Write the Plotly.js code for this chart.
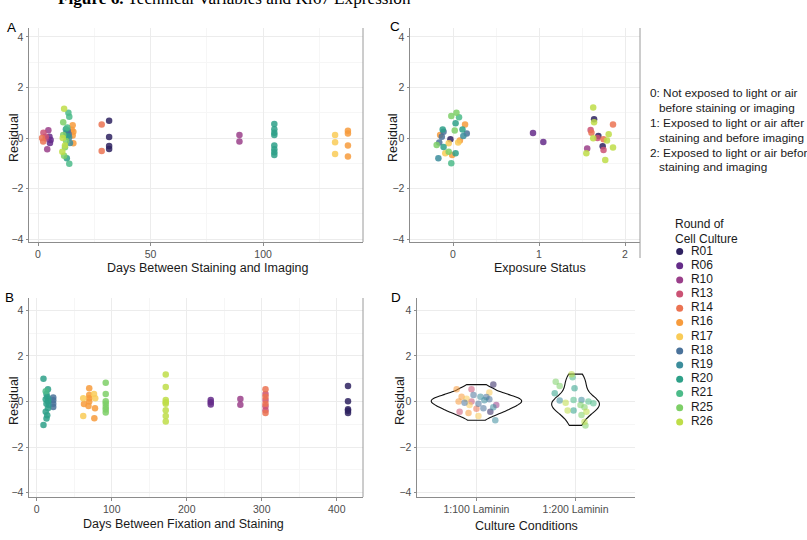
<!DOCTYPE html>
<html><head><meta charset="utf-8">
<script src="https://cdn.plot.ly/plotly-3.0.1.min.js"></script>
<style>body{margin:0;background:#fff}#chart{width:807px;height:540px}</style>
</head><body><div id="chart"></div>
<script>
// ---------- data ----------
const rounds = ['R01','R06','R10','R13','R14','R16','R17','R18','R19','R20','R21','R25','R26'];
const roundColors = ['#2E2260','#652C89','#9A3F8A','#CB5274','#EB7352','#F79B3C','#F9CB57','#4A729A','#3C8D9C','#2EA088','#4CBB89','#7ECF67','#BEDD48'];

// Panel A: days between staining and imaging vs residual
const aRound = ['R13','R13','R10','R10','R10','R06','R06','R06','R14','R14','R14','R14',
  'R01','R01','R01','R01','R10','R10',
  'R20','R20','R20','R20','R20','R20','R20','R20',
  'R17','R17','R17','R16','R16','R16','R16',
  'R26','R26','R26','R26','R21','R21','R21','R21','R25','R25','R25','R25','R25',
  'R16','R16','R16','R16','R16','R20','R20','R20','R18','R18','R18','R19','R19'];
const aDays = [2.4,3.4,4.6,4.1,3.6,5.1,5.6,5.3,2.3,1.8,28.3,28.3,
  31.6,31.6,31.6,31.6,89.5,89.5,
  105,105,105,105,105,105,105,105,
  132,132,132,137.7,137.7,137.7,137.7,
  11.6,11.0,10.8,12.0,13.5,13.9,13.9,13.0,11.2,11.2,12.0,11.6,12.5,
  15.4,15.7,15.4,15.7,15.0,12.4,12.8,13.0,13.2,13.6,12.6,13.8,14.2];
const aResid = [0.21,0.05,0.31,-0.44,-0.02,0.05,-0.08,-0.2,-0.14,0.0,0.54,-0.51,
  0.68,0.04,-0.31,-0.43,0.12,-0.14,
  0.55,0.35,0.21,0.12,-0.3,-0.44,-0.56,-0.67,
  0.12,-0.17,-0.63,0.29,0.18,-0.3,-0.73,
  1.16,0.0,-0.54,-0.3,1.0,0.84,-1.02,0.42,0.62,0.12,-0.36,-0.7,-0.12,
  0.51,0.25,0.1,-0.21,0.33,0.35,-0.8,0.08,0.29,0.15,0.2,0.02,-0.2];

// Panel C: exposure status (jittered) vs residual
const cRound = ['R25','R25','R25','R25','R25','R20','R20','R20','R20','R20','R16','R16','R16','R16',
  'R18','R18','R18','R18','R01','R17','R17','R17','R19','R19','R21','R21',
  'R06','R06',
  'R26','R26','R26','R26','R26','R26','R26','R26','R01','R01','R01','R14','R14','R14','R13','R13','R13','R10'];
const cExposure = [0.04,-0.02,0.02,-0.19,-0.05,0.03,-0.12,0.11,-0.11,0.03,0.14,-0.15,0.08,-0.01,
  -0.11,0.16,-0.16,-0.13,-0.03,0.06,-0.05,-0.09,-0.17,0.12,-0.02,0.07,
  0.93,1.05,
  1.63,1.64,1.81,1.63,1.79,1.86,1.55,1.77,1.64,1.69,1.74,1.86,1.61,1.75,1.6,1.68,1.75,1.56];
const cResid = [1.0,0.87,0.3,-0.28,-0.54,0.58,0.34,0.34,-0.35,-0.6,0.54,0.12,-0.1,-0.67,
  0.25,0.18,-0.18,0.05,-0.05,-0.18,-0.21,-0.6,-0.8,0.08,-1.0,0.82,
  0.2,-0.16,
  1.21,0.62,0.15,-0.01,-0.1,-0.37,-0.6,-0.87,0.74,0.08,-0.32,0.54,0.21,-0.05,0.32,0.0,-0.47,-0.41];

// Panel B: days between fixation and staining vs residual
const bRound = ['R20','R20','R20','R20','R20','R20','R20','R20','R20','R20','R20','R20','R19','R19','R21',
  'R18','R18','R18','R18',
  'R16','R16','R16','R16','R16','R16','R16','R16','R17','R17','R17','R17',
  'R25','R25','R25','R25','R25','R25','R25',
  'R26','R26','R26','R26','R26','R26','R26','R26',
  'R06','R06','R06','R10','R10',
  'R14','R14','R14','R14','R13','R13','R13','R13',
  'R01','R01','R01','R01','R01'];
const bDays = [9,15,13,14,12,15,13,15,12,14,13,9,16,16,12,
  22,22,22,22,
  70,70,70,70,63,69,77.7,76.8,76.4,62,78,62,
  92,92,92,92,92,92,92,
  172,172,172,172,172,172,172,172,
  232,232,232,271.5,271.5,
  305,305,305,305,305,305,305,305,
  415,415,415,415,415];
const bResid = [1.0,0.54,0.33,0.2,0.1,0.0,-0.1,-0.3,-0.45,-0.6,-0.75,-1.03,0.1,-0.15,0.45,
  0.18,0.05,-0.1,-0.24,
  0.58,0.29,0.14,0.0,-0.11,-0.2,-0.3,-0.74,0.33,0.14,0.14,-0.64,
  0.82,0.33,0.01,-0.1,-0.24,-0.35,-0.48,
  1.18,0.64,0.07,-0.03,-0.1,-0.38,-0.64,-0.88,
  0.07,-0.03,-0.13,0.11,-0.14,
  0.54,0.21,-0.1,-0.5,0.33,0.07,-0.21,-0.38,
  0.68,0.01,-0.34,-0.41,-0.5];

// Panel D: culture conditions vs residual
const conditions = ['1:100 Laminin','1:200 Laminin'];
const dCond = [0,0,0,0,0,0,0,0,0,0,0,0,0,0,0,0,0,0,0,0,0,0,0,0,0,
  1,1,1,1,1,1,1,1,1,1,1,1,1,1,1,1,1,1,1,1];
const dRound = ['R16','R16','R16','R16','R13','R13','R13','R01','R01','R17','R17','R17','R17',
  'R18','R18','R18','R18','R18','R18','R19','R19','R19','R19','R10','R14',
  'R25','R25','R25','R25','R25','R25','R21','R21','R21','R21','R26','R26','R26','R26','R26','R20','R20','R20','R19','R19'];
const dJitter = [-0.20,-0.15,-0.18,-0.08,-0.05,-0.05,-0.17,0.17,0.14,0.13,-0.10,-0.07,0.02,
  -0.03,0.13,-0.12,0.02,0.10,0.07,0.04,0.19,0.17,0.08,0.20,0.0,
  -0.20,-0.16,0.05,0.09,0.06,0.10,-0.03,-0.02,0.13,0.18,-0.04,-0.10,-0.08,0.11,0.09,-0.01,-0.21,-0.02,-0.16,0.06];
const dResid = [0.54,0.21,0.0,-0.5,0.54,0.0,-0.45,0.74,-0.45,0.39,0.12,-0.15,-0.64,
  0.29,0.1,-0.05,-0.1,0.2,-0.3,0.21,-0.82,-0.25,0.05,-0.15,-0.32,
  0.87,0.68,-0.15,-0.25,-0.59,-1.05,1.06,0.07,0.0,-0.08,1.2,-0.05,-0.39,-0.45,-0.89,0.58,0.36,-0.4,0.04,0.07];
const violinWidths = [0.91, 0.48];

const exposureNotes = ['0: Not exposed to light or air','before staining or imaging',
  '1: Exposed to light or air after','staining and before imaging',
  '2: Exposed to light or air before','staining and imaging'];

// ---------- helpers ----------
const W = 807, H = 540;
const px = v => v / W;
const py = v => 1 - v / H;
const FONT = 'Liberation Sans, Arial, Helvetica, sans-serif';

function byRound(rArr, xArr, yArr, xa, ya, opacity, size) {
  const out = [];
  rounds.forEach((r, i) => {
    const idx = [];
    rArr.forEach((v, j) => { if (v === r) idx.push(j); });
    if (!idx.length) return;
    out.push({type:'scatter', mode:'markers', x: idx.map(j => xArr[j]), y: idx.map(j => yArr[j]),
      xaxis: xa, yaxis: ya, showlegend:false, hoverinfo:'skip',
      marker:{color: roundColors[i], size: size, opacity: opacity, line:{width:0}}});
  });
  return out;
}
function nrd0(arr) {
  const n = arr.length, m = arr.reduce((a,b)=>a+b,0)/n;
  const sd = Math.sqrt(arr.reduce((a,b)=>a+(b-m)*(b-m),0)/(n-1));
  const s = arr.slice().sort((a,b)=>a-b);
  const q = p => { const h=(n-1)*p, lo=Math.floor(h); return s[lo]+(h-lo)*((s[lo+1]??s[lo])-s[lo]); };
  const iqr = (q(0.75)-q(0.25))/1.34;
  return 0.9*Math.min(sd, iqr)*Math.pow(n,-0.2);
}

const traces = [];
// violins (panel D)
conditions.forEach((c, k) => {
  const ys = dResid.filter((v, j) => dCond[j] === k);
  traces.push({type:'violin', x: ys.map(() => k + 1), y: ys, xaxis:'x4', yaxis:'y4',
    points:false, spanmode:'hard', width: violinWidths[k], scalegroup:'v'+k, scalemode:'width',
    bandwidth: nrd0(ys), line:{color:'#111', width:1.1}, fillcolor:'rgba(255,255,255,0)',
    box:{visible:false}, meanline:{visible:false}, showlegend:false, hoverinfo:'skip'});
});
traces.push(...byRound(aRound, aDays, aResid, 'x', 'y', 0.85, 6.5));
traces.push(...byRound(cRound, cExposure, cResid, 'x2', 'y2', 0.85, 6.5));
traces.push(...byRound(bRound, bDays, bResid, 'x3', 'y3', 0.85, 6.5));
traces.push(...byRound(dRound, dCond.map((k, j) => k + 1 + dJitter[j]), dResid, 'x4', 'y4', 0.55, 6.5));
// legend of rounds
traces.push({type:'scatter', mode:'markers', x: rounds.map(() => 0.06), y: rounds, xaxis:'x5', yaxis:'y5',
  marker:{color: roundColors, size:7}, showlegend:false, hoverinfo:'skip'});
traces.push({type:'scatter', mode:'text', x: rounds.map(() => 0.148), y: rounds, text: rounds, xaxis:'x5', yaxis:'y5',
  textposition:'middle right', textfont:{family:FONT, size:12, color:'#1a1a1a'}, showlegend:false, hoverinfo:'skip'});

function ax(extra) {
  return Object.assign({showline:true, linecolor:'#8c8c8c', linewidth:1, ticks:'outside', ticklen:2.5,
    tickcolor:'#8c8c8c', tickfont:{family:FONT, size:10.5, color:'#4d4d4d'},
    showgrid:true, gridcolor:'#ececec', gridwidth:1, zeroline:false, fixedrange:true}, extra);
}
const yTicks = [-4,-2,0,2,4];
const minorGrid = d => ({dtick:d, showgrid:true, gridcolor:'#f6f6f6', ticks:''});

const ann = [];
function txt(t, x, y, opt) {
  ann.push(Object.assign({text:t, x:px(x), y:py(y), xref:'paper', yref:'paper', showarrow:false,
    xanchor:'center', yanchor:'middle', font:{family:FONT, size:12.5, color:'#1a1a1a'}}, opt || {}));
}
txt('<b>Figure 6.</b> Technical Variables and Ki67 Expression', 234, -1.5,
  {font:{family:'Liberation Serif, Times New Roman, serif', size:17.2, color:'#000'}});
txt('A', 11, 27, {font:{family:FONT, size:13.5, color:'#000'}});
txt('C', 395, 26, {font:{family:FONT, size:13.5, color:'#000'}});
txt('B', 9, 297, {font:{family:FONT, size:13.5, color:'#000'}});
txt('D', 396, 297, {font:{family:FONT, size:13.5, color:'#000'}});
txt('Residual', 14, 138, {textangle:-90});
txt('Residual', 393, 138, {textangle:-90});
txt('Residual', 14, 401, {textangle:-90});
txt('Residual', 400, 401, {textangle:-90});
txt('Days Between Staining and Imaging', 208, 268);
txt('Exposure Status', 540, 268);
txt('Days Between Fixation and Staining', 183, 524);
txt('Culture Conditions', 526, 526);
txt('Round of', 673, 224, {xanchor:'left', font:{family:FONT, size:12, color:'#1a1a1a'}});
txt('Cell Culture', 673, 238.5, {xanchor:'left', font:{family:FONT, size:12, color:'#1a1a1a'}});
const noteY = [93, 108, 123, 138, 153, 167];
exposureNotes.forEach((t, i) => txt(t, i % 2 ? 657 : 648, noteY[i],
  {xanchor:'left', font:{family:FONT, size:11.8, color:'#1a1a1a'}}));

const lineShape = (x, y0, y1) => ({type:'line', xref:'paper', yref:'paper', x0:px(x), x1:px(x), y0:py(y0), y1:py(y1),
  line:{color:'#9a9a9a', width:1}});

const layout = {
  width: W, height: H, margin:{l:0, r:0, t:0, b:0}, paper_bgcolor:'#fff', plot_bgcolor:'rgba(0,0,0,0)',
  showlegend:false, hovermode:false, violinmode:'overlay',
  xaxis: ax({domain:[px(29), px(363)], range:[-4, 144.4], tickvals:[0,50,100], minor:minorGrid(25), anchor:'y'}),
  yaxis: ax({domain:[py(242), py(28)], range:[-4.11, 4.35], tickvals:yTicks, minor:minorGrid(1), anchor:'x'}),
  xaxis2: ax({domain:[px(410), px(640)], range:[-0.5, 2.174], tickvals:[0,1,2], minor:minorGrid(0.5), anchor:'y2'}),
  yaxis2: ax({domain:[py(242), py(28)], range:[-4.11, 4.35], tickvals:yTicks, minor:minorGrid(1), anchor:'x2'}),
  xaxis3: ax({domain:[px(29), px(363)], range:[-10.3, 435], tickvals:[0,100,200,300,400], minor:minorGrid(50), anchor:'y3'}),
  yaxis3: ax({domain:[py(497), py(298)], range:[-4.19, 4.54], tickvals:yTicks, minor:minorGrid(1), anchor:'x3'}),
  xaxis4: ax({domain:[px(417), px(635)], range:[0.4, 2.6], tickvals:[1,2], ticktext:conditions, anchor:'y4'}),
  yaxis4: ax({domain:[py(497), py(298)], range:[-4.19, 4.54], tickvals:yTicks, minor:minorGrid(1), anchor:'x4'}),
  xaxis5: {domain:[px(672), px(800)], range:[0,1], visible:false, fixedrange:true, anchor:'y5'},
  yaxis5: {domain:[py(429), py(244.4)], type:'category', categoryarray:rounds, range:[12.5,-0.5], visible:false, fixedrange:true, anchor:'x5'},
  annotations: ann,
  shapes: [lineShape(363, 28, 242), lineShape(640, 28, 258), lineShape(363, 298, 497)]
};
Plotly.newPlot('chart', traces, layout, {staticPlot:true, displayModeBar:false});
</script>
</body></html>
